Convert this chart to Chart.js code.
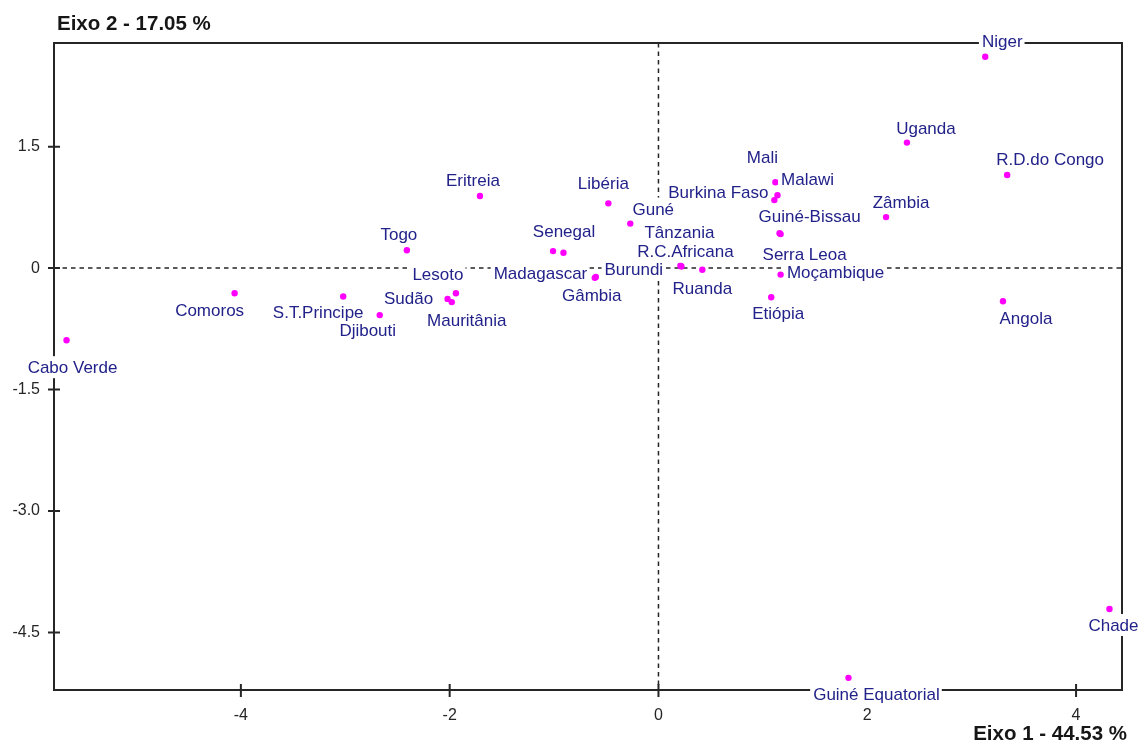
<!DOCTYPE html>
<html>
<head>
<meta charset="utf-8">
<script src="https://cdn.jsdelivr.net/npm/chart.js@4/dist/chart.umd.min.js"></script>
<style>
  body { margin: 0; background: #fff; }
  canvas { display: block; }
</style>
</head>
<body>
<canvas id="chart" width="1146" height="745"></canvas>
<script>
// pays et coordonnées sur les deux premiers axes
const countries = [
  "Cabo Verde", "Comoros", "S.T.Principe", "Djibouti", "Togo", "Eritreia",
  "Lesoto", "Sudão", "Mauritânia", "Senegal", "Madagascar", "Gâmbia",
  "Burundi", "Libéria", "Guné", "Tânzania", "R.C.Africana", "Ruanda",
  "Mali", "Malawi", "Burkina Faso", "Guiné-Bissau", "Serra Leoa", "Moçambique",
  "Etiópia", "Zâmbia", "R.D.do Congo", "Angola", "Uganda", "Niger",
  "Chade", "Guiné Equatorial"
];
const eixo1 = [
  -5.67, -4.06, -3.02, -2.67, -2.41, -1.71,
  -1.94, -2.02, -1.98, -1.01, -0.91, -0.61,
  -0.60, -0.48, -0.27, 0.21, 0.22, 0.42,
  1.12, 1.14, 1.11, 1.16, 1.17, 1.17,
  1.08, 2.18, 3.34, 3.30, 2.38, 3.13,
  4.32, 1.82
];
const eixo2 = [
  -0.89, -0.31, -0.35, -0.58, 0.22, 0.89,
  -0.31, -0.38, -0.42, 0.21, 0.19, -0.12,
  -0.11, 0.80, 0.55, 0.03, 0.02, -0.02,
  1.06, 0.90, 0.84, 0.43, 0.42, -0.08,
  -0.36, 0.63, 1.15, -0.41, 1.55, 2.61,
  -4.21, -5.06
];
const xTicks = [-4, -2, 0, 2, 4];
const yTicks = [1.5, 0, -1.5, -3.0, -4.5];
const yTickLabels = ["1.5", "0", "-1.5", "-3.0", "-4.5"];
const xTitle = "Eixo 1 - 44.53 %";
const yTitle = "Eixo 2 - 17.05 %";

// décalage des étiquettes (centre x, ligne de base y) en pixels
const labelOffsets = [
  [6, 33], [-25, 23], [-25, 22], [-12, 21], [-8, -10], [-7, -10],
  [-18, -13], [-39, 5], [15, 24], [11, -14], [-23, 26], [-3, 23],
  [38, -2], [-5, -14], [23, -9], [-1, -28], [4, -9], [0, 24],
  [-13, -19], [30, -10], [-56, -2], [30, -11], [24, 26], [55, 3],
  [7, 22], [15, -9], [43, -10], [23, 23], [19, -9], [17, -10],
  [4, 22], [28, 22]
];

const FONT = "'Liberation Sans', Arial, sans-serif";
const INK = "#262626";

const framePlugin = {
  id: "frame",
  beforeDatasetsDraw(chart) {
    const { ctx, chartArea: a, scales } = chart;
    const x0 = scales.x.getPixelForValue(0);
    const y0 = scales.y.getPixelForValue(0);
    ctx.save();
    // lignes pointillées des axes
    ctx.strokeStyle = INK;
    ctx.lineWidth = 1.5;
    ctx.setLineDash([4.5, 4]);
    ctx.beginPath();
    ctx.moveTo(a.left, y0);
    ctx.lineTo(a.right, y0);
    ctx.moveTo(x0, a.top);
    ctx.lineTo(x0, a.bottom);
    ctx.stroke();
    ctx.setLineDash([]);
    // cadre
    ctx.lineWidth = 2;
    ctx.strokeRect(a.left, a.top, a.right - a.left, a.bottom - a.top);
    // graduations
    ctx.beginPath();
    yTicks.forEach((v) => {
      const py = scales.y.getPixelForValue(v);
      ctx.moveTo(a.left - 6, py);
      ctx.lineTo(a.left + 6, py);
    });
    xTicks.forEach((v) => {
      const px = scales.x.getPixelForValue(v);
      ctx.moveTo(px, a.bottom - 6);
      ctx.lineTo(px, a.bottom + 7);
    });
    ctx.stroke();
    ctx.restore();
  },
  afterDraw(chart) {
    const { ctx } = chart;
    const meta = chart.getDatasetMeta(0);
    ctx.save();
    ctx.font = "17px " + FONT;
    ctx.textAlign = "center";
    ctx.textBaseline = "alphabetic";
    const boxes = meta.data.map((pt, i) => {
      const cx = pt.x + labelOffsets[i][0];
      const by = pt.y + labelOffsets[i][1];
      const w = ctx.measureText(countries[i]).width;
      return { cx, by, w };
    });
    // fond blanc d'abord, puis le texte
    ctx.fillStyle = "#fff";
    boxes.forEach((b) => {
      ctx.fillRect(b.cx - b.w / 2 - 3, b.by - 17, b.w + 5, 22);
    });
    ctx.fillStyle = "#22228a";
    boxes.forEach((b, i) => {
      ctx.fillText(countries[i], b.cx, b.by);
    });
    // titres des axes
    ctx.fillStyle = "#161616";
    ctx.font = "bold 20.5px " + FONT;
    ctx.textAlign = "left";
    ctx.fillText(yTitle, 57, 29.5);
    ctx.textAlign = "right";
    ctx.fillText(xTitle, 1127, 740);
    ctx.restore();
  },
};

const points = eixo1.map((x, i) => ({ x, y: eixo2[i] }));

new Chart(document.getElementById("chart"), {
  type: "scatter",
  data: {
    datasets: [
      {
        data: points,
        backgroundColor: "#ff00ff",
        borderWidth: 0,
        pointRadius: 3.2,
        pointHoverRadius: 3.2,
      },
    ],
  },
  options: {
    responsive: false,
    animation: false,
    events: [],
    layout: { padding: { top: 43, right: 24, left: 0, bottom: 0 } },
    plugins: {
      legend: { display: false },
      tooltip: { enabled: false },
    },
    scales: {
      x: {
        type: "linear",
        min: -5.79,
        max: 4.44,
        grid: { display: false },
        border: { display: false },
        afterBuildTicks: (scale) => {
          scale.ticks = xTicks.map((v) => ({ value: v }));
        },
        afterFit: (scale) => {
          scale.height = 55;
        },
        ticks: {
          padding: 8,
          color: INK,
          font: { family: FONT, size: 16 },
          callback: (v) => String(v),
        },
      },
      y: {
        type: "linear",
        min: -5.21,
        max: 2.78,
        grid: { display: false },
        border: { display: false },
        afterBuildTicks: (scale) => {
          scale.ticks = yTicks.map((v) => ({ value: v }));
        },
        afterFit: (scale) => {
          scale.width = 54;
        },
        ticks: {
          padding: 6,
          color: INK,
          font: { family: FONT, size: 16 },
          callback: (v) => yTickLabels[yTicks.indexOf(v)],
        },
      },
    },
  },
  plugins: [framePlugin],
});
</script>
</body>
</html>
